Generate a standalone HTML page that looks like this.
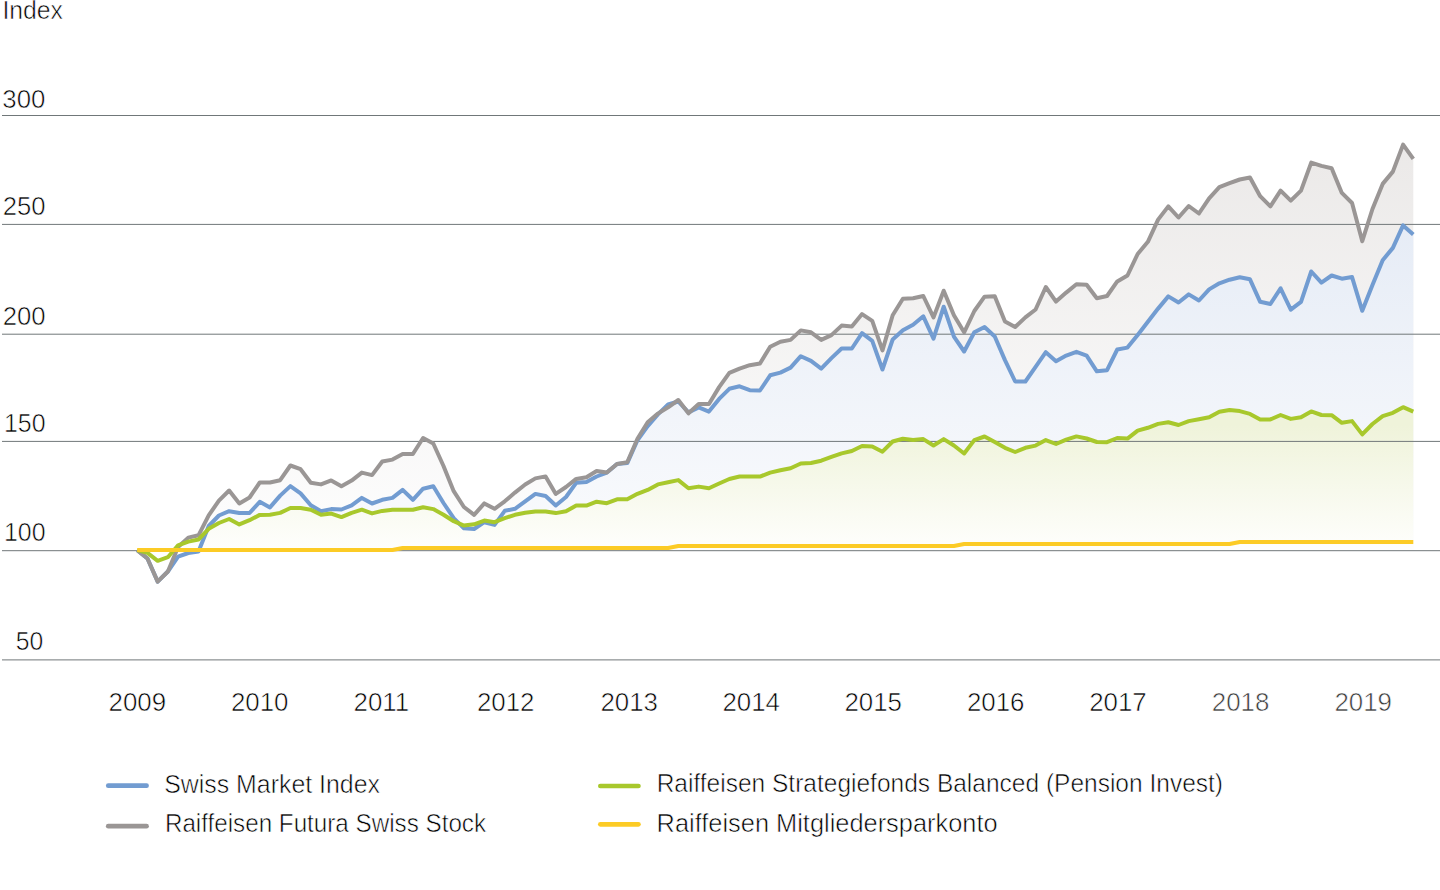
<!DOCTYPE html>
<html><head><meta charset="utf-8"><title>Index chart</title>
<style>html,body{margin:0;padding:0;background:#fff;}body{width:1440px;height:890px;overflow:hidden;}svg{display:block;}text{font-family:'Liberation Sans', Arial, sans-serif;}</style></head><body>
<svg width="1440" height="890" viewBox="0 0 1440 890">
<defs>
<linearGradient id="gg" gradientUnits="userSpaceOnUse" x1="0" y1="145" x2="0" y2="551"><stop offset="0" stop-color="#ebe9e8"/><stop offset="1" stop-color="#fefefe"/></linearGradient>
<linearGradient id="gb" gradientUnits="userSpaceOnUse" x1="0" y1="225" x2="0" y2="551"><stop offset="0" stop-color="#e6ecf6"/><stop offset="1" stop-color="#fafbfd"/></linearGradient>
<linearGradient id="gn" gradientUnits="userSpaceOnUse" x1="0" y1="425" x2="0" y2="548"><stop offset="0" stop-color="#eff3da"/><stop offset="1" stop-color="#fefefc"/></linearGradient>
<clipPath id="cp"><rect x="0" y="0" width="1440" height="550.7"/></clipPath>
</defs>
<g clip-path="url(#cp)">
<path d="M137.25,550.7 L137.25,550.10 L147.46,558.50 L157.67,581.60 L167.88,571.50 L178.08,547.00 L188.29,537.60 L198.50,535.30 L208.71,515.30 L218.92,500.70 L229.13,490.50 L239.33,503.40 L249.54,497.50 L259.75,482.50 L269.96,482.50 L280.17,480.20 L290.38,465.50 L300.58,469.20 L310.79,482.70 L321.00,484.40 L331.21,480.40 L341.42,486.20 L351.63,480.60 L361.83,472.60 L372.04,475.10 L382.25,461.50 L392.46,459.60 L402.67,454.00 L412.88,454.00 L423.09,438.00 L433.29,443.50 L443.50,466.00 L453.71,491.20 L463.92,507.00 L474.13,514.80 L484.34,503.40 L494.54,508.80 L504.75,501.30 L514.96,492.60 L525.17,484.50 L535.38,478.40 L545.59,476.40 L555.79,493.90 L566.00,487.00 L576.21,478.90 L586.42,477.30 L596.63,471.00 L606.84,472.60 L617.04,463.90 L627.25,462.30 L637.46,438.80 L647.67,422.20 L657.88,413.60 L668.09,407.30 L678.30,400.00 L688.50,413.30 L698.71,404.00 L708.92,404.00 L719.13,387.10 L729.34,372.80 L739.55,368.60 L749.75,365.20 L759.96,363.50 L770.17,346.70 L780.38,341.80 L790.59,339.90 L800.80,330.40 L811.00,332.30 L821.21,339.90 L831.42,335.10 L841.63,325.60 L851.84,326.50 L862.05,314.10 L872.25,320.80 L882.46,350.40 L892.67,315.20 L902.88,298.80 L913.09,298.20 L923.30,296.00 L933.51,317.40 L943.71,290.70 L953.92,315.20 L964.13,332.30 L974.34,311.00 L984.55,296.70 L994.76,296.30 L1004.96,321.50 L1015.17,327.00 L1025.38,317.40 L1035.59,309.50 L1045.80,287.00 L1056.01,301.60 L1066.21,292.60 L1076.42,284.30 L1086.63,284.70 L1096.84,298.20 L1107.05,296.00 L1117.26,281.40 L1127.46,275.50 L1137.67,254.00 L1147.88,241.80 L1158.09,219.60 L1168.30,206.40 L1178.51,217.50 L1188.72,206.00 L1198.92,213.50 L1209.13,198.30 L1219.34,187.20 L1229.55,183.20 L1239.76,179.50 L1249.97,177.50 L1260.17,196.20 L1270.38,206.40 L1280.59,190.60 L1290.80,200.70 L1301.01,190.60 L1311.22,162.60 L1321.42,165.90 L1331.63,168.20 L1341.84,192.90 L1352.05,203.00 L1362.26,241.20 L1372.47,209.00 L1382.67,183.90 L1392.88,171.60 L1403.09,144.60 L1413.30,158.80 L1413.30,550.7 Z" fill="url(#gg)"/>
<path d="M137.25,550.7 L137.25,550.10 L147.46,558.50 L157.67,581.60 L167.88,571.50 L178.08,556.70 L188.29,553.00 L198.50,551.50 L208.71,526.00 L218.92,515.50 L229.13,511.20 L239.33,513.00 L249.54,513.00 L259.75,501.80 L269.96,507.40 L280.17,495.60 L290.38,486.10 L300.58,493.40 L310.79,505.20 L321.00,511.30 L331.21,509.10 L341.42,509.50 L351.63,505.30 L361.83,497.90 L372.04,503.50 L382.25,499.80 L392.46,497.90 L402.67,489.90 L412.88,499.80 L423.09,488.70 L433.29,486.20 L443.50,503.00 L453.71,518.20 L463.92,528.30 L474.13,529.00 L484.34,522.20 L494.54,524.90 L504.75,510.80 L514.96,508.80 L525.17,501.30 L535.38,493.90 L545.59,496.00 L555.79,505.50 L566.00,497.00 L576.21,482.80 L586.42,482.00 L596.63,476.50 L606.84,472.60 L617.04,463.90 L627.25,463.10 L637.46,440.30 L647.67,426.20 L657.88,414.40 L668.09,404.50 L678.30,401.50 L688.50,412.40 L698.71,407.40 L708.92,411.60 L719.13,398.90 L729.34,388.80 L739.55,386.30 L749.75,390.20 L759.96,390.50 L770.17,375.30 L780.38,372.60 L790.59,367.60 L800.80,356.20 L811.00,360.90 L821.21,368.60 L831.42,358.10 L841.63,348.50 L851.84,348.50 L862.05,333.20 L872.25,340.90 L882.46,369.50 L892.67,339.50 L902.88,330.20 L913.09,324.80 L923.30,316.30 L933.51,338.70 L943.71,306.70 L953.92,336.60 L964.13,351.50 L974.34,332.30 L984.55,327.00 L994.76,336.50 L1004.96,360.10 L1015.17,381.50 L1025.38,381.50 L1035.59,366.80 L1045.80,352.20 L1056.01,361.20 L1066.21,355.60 L1076.42,351.80 L1086.63,355.60 L1096.84,371.30 L1107.05,370.20 L1117.26,349.50 L1127.46,347.60 L1137.67,334.90 L1147.88,321.70 L1158.09,308.60 L1168.30,296.40 L1178.51,302.50 L1188.72,294.40 L1198.92,300.50 L1209.13,289.40 L1219.34,283.30 L1229.55,279.70 L1239.76,277.20 L1249.97,279.30 L1260.17,301.80 L1270.38,304.00 L1280.59,288.30 L1290.80,309.70 L1301.01,301.80 L1311.22,271.50 L1321.42,282.70 L1331.63,275.50 L1341.84,278.70 L1352.05,277.10 L1362.26,310.80 L1372.47,285.00 L1382.67,260.20 L1392.88,247.90 L1403.09,225.40 L1413.30,234.40 L1413.30,550.7 Z" fill="url(#gb)"/>
<path d="M137.25,550.7 L137.25,550.10 L147.46,552.90 L157.67,560.80 L167.88,557.20 L178.08,545.30 L188.29,541.60 L198.50,539.50 L208.71,528.80 L218.92,523.00 L229.13,519.00 L239.33,524.40 L249.54,520.20 L259.75,514.90 L269.96,514.70 L280.17,512.90 L290.38,508.00 L300.58,508.00 L310.79,509.70 L321.00,514.70 L331.21,513.60 L341.42,517.10 L351.63,512.80 L361.83,509.70 L372.04,513.40 L382.25,510.90 L392.46,509.70 L402.67,509.70 L412.88,509.70 L423.09,507.20 L433.29,509.10 L443.50,514.70 L453.71,521.20 L463.92,525.60 L474.13,524.30 L484.34,520.60 L494.54,522.20 L504.75,518.20 L514.96,514.80 L525.17,512.80 L535.38,511.50 L545.59,511.50 L555.79,513.10 L566.00,511.30 L576.21,505.60 L586.42,505.60 L596.63,501.70 L606.84,503.20 L617.04,499.30 L627.25,499.30 L637.46,493.80 L647.67,489.90 L657.88,484.40 L668.09,482.20 L678.30,480.10 L688.50,488.30 L698.71,486.60 L708.92,488.30 L719.13,483.50 L729.34,479.00 L739.55,476.50 L749.75,476.50 L759.96,476.60 L770.17,472.60 L780.38,470.30 L790.59,468.30 L800.80,463.50 L811.00,463.00 L821.21,460.70 L831.42,456.90 L841.63,453.40 L851.84,451.00 L862.05,446.00 L872.25,446.50 L882.46,451.70 L892.67,441.50 L902.88,438.70 L913.09,440.10 L923.30,439.10 L933.51,445.50 L943.71,439.10 L953.92,445.50 L964.13,453.50 L974.34,440.10 L984.55,436.50 L994.76,442.10 L1004.96,447.80 L1015.17,452.00 L1025.38,447.80 L1035.59,445.60 L1045.80,440.10 L1056.01,444.00 L1066.21,439.60 L1076.42,436.40 L1086.63,438.50 L1096.84,442.00 L1107.05,442.20 L1117.26,438.00 L1127.46,438.60 L1137.67,430.60 L1147.88,427.80 L1158.09,423.90 L1168.30,422.20 L1178.51,425.00 L1188.72,421.10 L1198.92,419.20 L1209.13,417.20 L1219.34,411.70 L1229.55,410.00 L1239.76,411.10 L1249.97,413.90 L1260.17,419.40 L1270.38,419.40 L1280.59,415.00 L1290.80,418.90 L1301.01,417.20 L1311.22,411.40 L1321.42,415.00 L1331.63,415.20 L1341.84,422.80 L1352.05,421.10 L1362.26,434.40 L1372.47,424.00 L1382.67,416.10 L1392.88,412.80 L1403.09,407.20 L1413.30,411.70 L1413.30,550.7 Z" fill="url(#gn)"/>
</g>
<line x1="2" y1="115.5" x2="1440" y2="115.5" stroke="#707779" stroke-width="1"/>
<line x1="2" y1="224.4" x2="1440" y2="224.4" stroke="#707779" stroke-width="1"/>
<line x1="2" y1="334.2" x2="1440" y2="334.2" stroke="#707779" stroke-width="1"/>
<line x1="2" y1="441.4" x2="1440" y2="441.4" stroke="#707779" stroke-width="1"/>
<line x1="2" y1="550.7" x2="1440" y2="550.7" stroke="#707779" stroke-width="1"/>
<line x1="2" y1="659.9" x2="1440" y2="659.9" stroke="#707779" stroke-width="1"/>
<path d="M137.25,550.10 L147.46,558.50 L157.67,581.60 L167.88,571.50 L178.08,556.70 L188.29,553.00 L198.50,551.50 L208.71,526.00 L218.92,515.50 L229.13,511.20 L239.33,513.00 L249.54,513.00 L259.75,501.80 L269.96,507.40 L280.17,495.60 L290.38,486.10 L300.58,493.40 L310.79,505.20 L321.00,511.30 L331.21,509.10 L341.42,509.50 L351.63,505.30 L361.83,497.90 L372.04,503.50 L382.25,499.80 L392.46,497.90 L402.67,489.90 L412.88,499.80 L423.09,488.70 L433.29,486.20 L443.50,503.00 L453.71,518.20 L463.92,528.30 L474.13,529.00 L484.34,522.20 L494.54,524.90 L504.75,510.80 L514.96,508.80 L525.17,501.30 L535.38,493.90 L545.59,496.00 L555.79,505.50 L566.00,497.00 L576.21,482.80 L586.42,482.00 L596.63,476.50 L606.84,472.60 L617.04,463.90 L627.25,463.10 L637.46,440.30 L647.67,426.20 L657.88,414.40 L668.09,404.50 L678.30,401.50 L688.50,412.40 L698.71,407.40 L708.92,411.60 L719.13,398.90 L729.34,388.80 L739.55,386.30 L749.75,390.20 L759.96,390.50 L770.17,375.30 L780.38,372.60 L790.59,367.60 L800.80,356.20 L811.00,360.90 L821.21,368.60 L831.42,358.10 L841.63,348.50 L851.84,348.50 L862.05,333.20 L872.25,340.90 L882.46,369.50 L892.67,339.50 L902.88,330.20 L913.09,324.80 L923.30,316.30 L933.51,338.70 L943.71,306.70 L953.92,336.60 L964.13,351.50 L974.34,332.30 L984.55,327.00 L994.76,336.50 L1004.96,360.10 L1015.17,381.50 L1025.38,381.50 L1035.59,366.80 L1045.80,352.20 L1056.01,361.20 L1066.21,355.60 L1076.42,351.80 L1086.63,355.60 L1096.84,371.30 L1107.05,370.20 L1117.26,349.50 L1127.46,347.60 L1137.67,334.90 L1147.88,321.70 L1158.09,308.60 L1168.30,296.40 L1178.51,302.50 L1188.72,294.40 L1198.92,300.50 L1209.13,289.40 L1219.34,283.30 L1229.55,279.70 L1239.76,277.20 L1249.97,279.30 L1260.17,301.80 L1270.38,304.00 L1280.59,288.30 L1290.80,309.70 L1301.01,301.80 L1311.22,271.50 L1321.42,282.70 L1331.63,275.50 L1341.84,278.70 L1352.05,277.10 L1362.26,310.80 L1372.47,285.00 L1382.67,260.20 L1392.88,247.90 L1403.09,225.40 L1413.30,234.40" fill="none" stroke="#729cd1" stroke-width="4.0" stroke-linejoin="round"/>
<path d="M137.25,550.10 L147.46,558.50 L157.67,581.60 L167.88,571.50 L178.08,547.00 L188.29,537.60 L198.50,535.30 L208.71,515.30 L218.92,500.70 L229.13,490.50 L239.33,503.40 L249.54,497.50 L259.75,482.50 L269.96,482.50 L280.17,480.20 L290.38,465.50 L300.58,469.20 L310.79,482.70 L321.00,484.40 L331.21,480.40 L341.42,486.20 L351.63,480.60 L361.83,472.60 L372.04,475.10 L382.25,461.50 L392.46,459.60 L402.67,454.00 L412.88,454.00 L423.09,438.00 L433.29,443.50 L443.50,466.00 L453.71,491.20 L463.92,507.00 L474.13,514.80 L484.34,503.40 L494.54,508.80 L504.75,501.30 L514.96,492.60 L525.17,484.50 L535.38,478.40 L545.59,476.40 L555.79,493.90 L566.00,487.00 L576.21,478.90 L586.42,477.30 L596.63,471.00 L606.84,472.60 L617.04,463.90 L627.25,462.30 L637.46,438.80 L647.67,422.20 L657.88,413.60 L668.09,407.30 L678.30,400.00 L688.50,413.30 L698.71,404.00 L708.92,404.00 L719.13,387.10 L729.34,372.80 L739.55,368.60 L749.75,365.20 L759.96,363.50 L770.17,346.70 L780.38,341.80 L790.59,339.90 L800.80,330.40 L811.00,332.30 L821.21,339.90 L831.42,335.10 L841.63,325.60 L851.84,326.50 L862.05,314.10 L872.25,320.80 L882.46,350.40 L892.67,315.20 L902.88,298.80 L913.09,298.20 L923.30,296.00 L933.51,317.40 L943.71,290.70 L953.92,315.20 L964.13,332.30 L974.34,311.00 L984.55,296.70 L994.76,296.30 L1004.96,321.50 L1015.17,327.00 L1025.38,317.40 L1035.59,309.50 L1045.80,287.00 L1056.01,301.60 L1066.21,292.60 L1076.42,284.30 L1086.63,284.70 L1096.84,298.20 L1107.05,296.00 L1117.26,281.40 L1127.46,275.50 L1137.67,254.00 L1147.88,241.80 L1158.09,219.60 L1168.30,206.40 L1178.51,217.50 L1188.72,206.00 L1198.92,213.50 L1209.13,198.30 L1219.34,187.20 L1229.55,183.20 L1239.76,179.50 L1249.97,177.50 L1260.17,196.20 L1270.38,206.40 L1280.59,190.60 L1290.80,200.70 L1301.01,190.60 L1311.22,162.60 L1321.42,165.90 L1331.63,168.20 L1341.84,192.90 L1352.05,203.00 L1362.26,241.20 L1372.47,209.00 L1382.67,183.90 L1392.88,171.60 L1403.09,144.60 L1413.30,158.80" fill="none" stroke="#9a9695" stroke-width="4.0" stroke-linejoin="round"/>
<path d="M137.25,550.10 L147.46,552.90 L157.67,560.80 L167.88,557.20 L178.08,545.30 L188.29,541.60 L198.50,539.50 L208.71,528.80 L218.92,523.00 L229.13,519.00 L239.33,524.40 L249.54,520.20 L259.75,514.90 L269.96,514.70 L280.17,512.90 L290.38,508.00 L300.58,508.00 L310.79,509.70 L321.00,514.70 L331.21,513.60 L341.42,517.10 L351.63,512.80 L361.83,509.70 L372.04,513.40 L382.25,510.90 L392.46,509.70 L402.67,509.70 L412.88,509.70 L423.09,507.20 L433.29,509.10 L443.50,514.70 L453.71,521.20 L463.92,525.60 L474.13,524.30 L484.34,520.60 L494.54,522.20 L504.75,518.20 L514.96,514.80 L525.17,512.80 L535.38,511.50 L545.59,511.50 L555.79,513.10 L566.00,511.30 L576.21,505.60 L586.42,505.60 L596.63,501.70 L606.84,503.20 L617.04,499.30 L627.25,499.30 L637.46,493.80 L647.67,489.90 L657.88,484.40 L668.09,482.20 L678.30,480.10 L688.50,488.30 L698.71,486.60 L708.92,488.30 L719.13,483.50 L729.34,479.00 L739.55,476.50 L749.75,476.50 L759.96,476.60 L770.17,472.60 L780.38,470.30 L790.59,468.30 L800.80,463.50 L811.00,463.00 L821.21,460.70 L831.42,456.90 L841.63,453.40 L851.84,451.00 L862.05,446.00 L872.25,446.50 L882.46,451.70 L892.67,441.50 L902.88,438.70 L913.09,440.10 L923.30,439.10 L933.51,445.50 L943.71,439.10 L953.92,445.50 L964.13,453.50 L974.34,440.10 L984.55,436.50 L994.76,442.10 L1004.96,447.80 L1015.17,452.00 L1025.38,447.80 L1035.59,445.60 L1045.80,440.10 L1056.01,444.00 L1066.21,439.60 L1076.42,436.40 L1086.63,438.50 L1096.84,442.00 L1107.05,442.20 L1117.26,438.00 L1127.46,438.60 L1137.67,430.60 L1147.88,427.80 L1158.09,423.90 L1168.30,422.20 L1178.51,425.00 L1188.72,421.10 L1198.92,419.20 L1209.13,417.20 L1219.34,411.70 L1229.55,410.00 L1239.76,411.10 L1249.97,413.90 L1260.17,419.40 L1270.38,419.40 L1280.59,415.00 L1290.80,418.90 L1301.01,417.20 L1311.22,411.40 L1321.42,415.00 L1331.63,415.20 L1341.84,422.80 L1352.05,421.10 L1362.26,434.40 L1372.47,424.00 L1382.67,416.10 L1392.88,412.80 L1403.09,407.20 L1413.30,411.70" fill="none" stroke="#a8c82c" stroke-width="4.0" stroke-linejoin="round"/>
<path d="M137.25,550.00 L147.46,550.00 L157.67,550.00 L167.88,550.00 L178.08,550.00 L188.29,550.00 L198.50,550.00 L208.71,550.00 L218.92,550.00 L229.13,550.00 L239.33,550.00 L249.54,550.00 L259.75,550.00 L269.96,550.00 L280.17,550.00 L290.38,550.00 L300.58,550.00 L310.79,550.00 L321.00,550.00 L331.21,550.00 L341.42,550.00 L351.63,550.00 L361.83,550.00 L372.04,550.00 L382.25,550.00 L392.46,550.00 L402.67,548.00 L412.88,548.00 L423.09,548.00 L433.29,548.00 L443.50,548.00 L453.71,548.00 L463.92,548.00 L474.13,548.00 L484.34,548.00 L494.54,548.00 L504.75,548.00 L514.96,548.00 L525.17,548.00 L535.38,548.00 L545.59,548.00 L555.79,548.00 L566.00,548.00 L576.21,548.00 L586.42,548.00 L596.63,548.00 L606.84,548.00 L617.04,548.00 L627.25,548.00 L637.46,548.00 L647.67,548.00 L657.88,548.00 L668.09,548.00 L678.30,546.00 L688.50,546.00 L698.71,546.00 L708.92,546.00 L719.13,546.00 L729.34,546.00 L739.55,546.00 L749.75,546.00 L759.96,546.00 L770.17,546.00 L780.38,546.00 L790.59,546.00 L800.80,546.00 L811.00,546.00 L821.21,546.00 L831.42,546.00 L841.63,546.00 L851.84,546.00 L862.05,546.00 L872.25,546.00 L882.46,546.00 L892.67,546.00 L902.88,546.00 L913.09,546.00 L923.30,546.00 L933.51,546.00 L943.71,546.00 L953.92,546.00 L964.13,544.00 L974.34,544.00 L984.55,544.00 L994.76,544.00 L1004.96,544.00 L1015.17,544.00 L1025.38,544.00 L1035.59,544.00 L1045.80,544.00 L1056.01,544.00 L1066.21,544.00 L1076.42,544.00 L1086.63,544.00 L1096.84,544.00 L1107.05,544.00 L1117.26,544.00 L1127.46,544.00 L1137.67,544.00 L1147.88,544.00 L1158.09,544.00 L1168.30,544.00 L1178.51,544.00 L1188.72,544.00 L1198.92,544.00 L1209.13,544.00 L1219.34,544.00 L1229.55,544.00 L1239.76,542.00 L1249.97,542.00 L1260.17,542.00 L1270.38,542.00 L1280.59,542.00 L1290.80,542.00 L1301.01,542.00 L1311.22,542.00 L1321.42,542.00 L1331.63,542.00 L1341.84,542.00 L1352.05,542.00 L1362.26,542.00 L1372.47,542.00 L1382.67,542.00 L1392.88,542.00 L1403.09,542.00 L1413.30,542.00" fill="none" stroke="#fccb25" stroke-width="4.0" stroke-linejoin="round"/>
<line x1="108.25" y1="785.7" x2="146.55" y2="785.7" stroke="#729cd1" stroke-width="4.7" stroke-linecap="round"/>
<line x1="108.25" y1="826.2" x2="146.55" y2="826.2" stroke="#9a9695" stroke-width="4.7" stroke-linecap="round"/>
<line x1="600.35" y1="786.0" x2="638.4499999999999" y2="786.0" stroke="#a8c82c" stroke-width="4.7" stroke-linecap="round"/>
<line x1="600.35" y1="824.3" x2="638.4499999999999" y2="824.3" stroke="#fccb25" stroke-width="4.7" stroke-linecap="round"/>
<text x="2.41" y="18.7" font-size="26" fill="#000000" stroke="#fff" stroke-width="0.6" textLength="60.55" lengthAdjust="spacingAndGlyphs">Index</text>
<text x="2.27" y="107.6" font-size="26" fill="#000000" stroke="#fff" stroke-width="0.6" textLength="43.11" lengthAdjust="spacingAndGlyphs">300</text>
<text x="2.66" y="215.1" font-size="26" fill="#000000" stroke="#fff" stroke-width="0.6" textLength="42.82" lengthAdjust="spacingAndGlyphs">250</text>
<text x="2.66" y="324.6" font-size="26" fill="#000000" stroke="#fff" stroke-width="0.6" textLength="42.92" lengthAdjust="spacingAndGlyphs">200</text>
<text x="3.99" y="432.0" font-size="26" fill="#000000" stroke="#fff" stroke-width="0.6" textLength="41.56" lengthAdjust="spacingAndGlyphs">150</text>
<text x="3.99" y="541.2" font-size="26" fill="#000000" stroke="#fff" stroke-width="0.6" textLength="41.56" lengthAdjust="spacingAndGlyphs">100</text>
<text x="15.74" y="650.4" font-size="26" fill="#000000" stroke="#fff" stroke-width="0.6" textLength="27.50" lengthAdjust="spacingAndGlyphs">50</text>
<text x="108.55" y="710.6" font-size="26" fill="#000000" stroke="#fff" stroke-width="0.6" textLength="57.55" lengthAdjust="spacingAndGlyphs">2009</text>
<text x="230.95" y="710.6" font-size="26" fill="#000000" stroke="#fff" stroke-width="0.6" textLength="57.55" lengthAdjust="spacingAndGlyphs">2010</text>
<text x="353.55" y="710.6" font-size="26" fill="#000000" stroke="#fff" stroke-width="0.6" textLength="55.64" lengthAdjust="spacingAndGlyphs">2011</text>
<text x="476.90" y="710.6" font-size="26" fill="#000000" stroke="#fff" stroke-width="0.6" textLength="57.55" lengthAdjust="spacingAndGlyphs">2012</text>
<text x="600.40" y="710.6" font-size="26" fill="#000000" stroke="#fff" stroke-width="0.6" textLength="57.55" lengthAdjust="spacingAndGlyphs">2013</text>
<text x="722.40" y="710.6" font-size="26" fill="#000000" stroke="#fff" stroke-width="0.6" textLength="57.55" lengthAdjust="spacingAndGlyphs">2014</text>
<text x="844.40" y="710.6" font-size="26" fill="#000000" stroke="#fff" stroke-width="0.6" textLength="57.55" lengthAdjust="spacingAndGlyphs">2015</text>
<text x="966.90" y="710.6" font-size="26" fill="#000000" stroke="#fff" stroke-width="0.6" textLength="57.55" lengthAdjust="spacingAndGlyphs">2016</text>
<text x="1089.15" y="710.6" font-size="26" fill="#000000" stroke="#fff" stroke-width="0.6" textLength="57.55" lengthAdjust="spacingAndGlyphs">2017</text>
<text x="1211.75" y="710.6" font-size="26" fill="#3a3a3a" stroke="#fff" stroke-width="0.6" textLength="57.55" lengthAdjust="spacingAndGlyphs">2018</text>
<text x="1334.45" y="710.6" font-size="26" fill="#3a3a3a" stroke="#fff" stroke-width="0.6" textLength="57.55" lengthAdjust="spacingAndGlyphs">2019</text>
<text x="164.19" y="793.3" font-size="26" fill="#000000" stroke="#fff" stroke-width="0.6" textLength="215.77" lengthAdjust="spacingAndGlyphs">Swiss Market Index</text>
<text x="164.90" y="831.6" font-size="26" fill="#000000" stroke="#fff" stroke-width="0.6" textLength="321.18" lengthAdjust="spacingAndGlyphs">Raiffeisen Futura Swiss Stock</text>
<text x="656.68" y="791.7" font-size="26" fill="#000000" stroke="#fff" stroke-width="0.6" textLength="566.33" lengthAdjust="spacingAndGlyphs">Raiffeisen Strategiefonds Balanced (Pension Invest)</text>
<text x="656.61" y="831.6" font-size="26" fill="#000000" stroke="#fff" stroke-width="0.6" textLength="340.98" lengthAdjust="spacingAndGlyphs">Raiffeisen Mitgliedersparkonto</text>
</svg>
</body></html>
